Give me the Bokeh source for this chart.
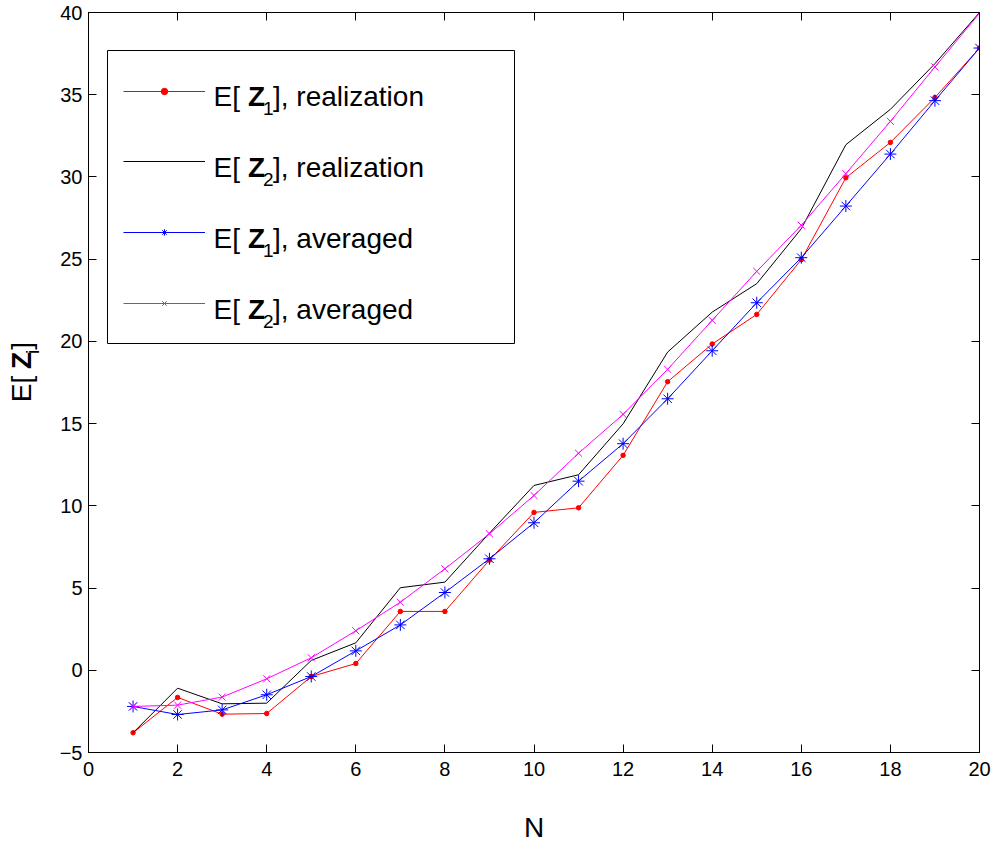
import math
from bokeh.plotting import figure
from bokeh.layouts import row
from bokeh.models import (Range1d, FixedTicker, LinearAxis, Legend, LegendItem,
                          Label, BoxAnnotation)
from bokeh.core.properties import value
from bokeh.embed import file_html
from bokeh.resources import INLINE

# ---------------- data ----------------
N = list(range(1, 21))
z1_realization = [-3.8, -1.65, -2.67, -2.63, -0.38, 0.41, 3.58, 3.58, 6.7, 9.6,
                  9.88, 13.07, 17.55, 19.84, 21.64, 24.97, 29.95, 32.1, 34.83, 37.84]
z2_realization = [-3.8, -1.09, -2.04, -2.0, 0.6, 1.67, 5.02, 5.36, 8.34, 11.24,
                  11.89, 14.99, 19.35, 21.78, 23.51, 26.85, 31.96, 34.11, 36.89, 40.0]
z1_averaged = [-2.2, -2.69, -2.41, -1.49, -0.38, 1.18, 2.76, 4.73, 6.78, 8.97,
               11.5, 13.78, 16.51, 19.43, 22.35, 25.09, 28.23, 31.39, 34.64, 37.84]
z2_averaged = [-2.2, -2.12, -1.63, -0.52, 0.76, 2.4, 4.14, 6.17, 8.3, 10.63,
               13.2, 15.56, 18.3, 21.28, 24.26, 27.06, 30.2, 33.38, 36.69, 39.95]

x_ticks = [0, 2, 4, 6, 8, 10, 12, 14, 16, 18, 20]
y_ticks = [-5, 0, 5, 10, 15, 20, 25, 30, 35, 40]
y_tick_labels = {-5: "\u22125"}

series_subs = ["1", "2", "1", "2"]
series_suffix = ["], realization", "], realization", "], averaged", "], averaged"]

FONT = "Liberation Sans"
H = 845
LAB_W = 48
MAGENTA = "#ff00ff"

# ---------------- y-axis label strip ----------------
ylab = figure(width=LAB_W, height=H, output_backend="svg", toolbar_location=None,
              x_range=Range1d(0, LAB_W), y_range=Range1d(0, H),
              min_border=0, x_axis_type=None, y_axis_type=None)
ylab.xgrid.visible = False
ylab.ygrid.visible = False
ylab.outline_line_color = None
ylab.background_fill_color = "white"
ylab.border_fill_color = "white"
ang = math.pi / 2
DX, DY = -11, -28
ylab.text(x=[32 + DX], y=[H - 417 + DY], text=["E[ "], angle=ang,
          text_font=value(FONT), text_font_size="28px", text_color="black",
          text_baseline="alphabetic", text_align="left")
ylab.text(x=[32 + DX], y=[H - 379 + DY], text=["Z"], angle=ang,
          text_font=value(FONT), text_font_size="28px", text_font_style="bold",
          text_color="black", text_baseline="alphabetic", text_align="left")
ylab.text(x=[43 + DX], y=[H - 362 + DY], text=["i"], angle=ang,
          text_font=value(FONT), text_font_size="19px", text_color="black",
          text_baseline="alphabetic", text_align="left")
ylab.text(x=[32 + DX], y=[H - 357 + DY], text=["]"], angle=ang,
          text_font=value(FONT), text_font_size="28px", text_color="black",
          text_baseline="alphabetic", text_align="left")

# ---------------- main plot ----------------
p = figure(width=995 - LAB_W, height=H, output_backend="svg", toolbar_location=None,
           x_range=Range1d(0, 20), y_range=Range1d(-5, 40),
           min_border_left=88 - LAB_W, min_border_right=16, min_border_top=12,
           min_border_bottom=93, x_axis_type=None, y_axis_type=None)
p.xgrid.visible = False
p.ygrid.visible = False
p.outline_line_color = "black"
p.outline_line_width = 1
p.background_fill_color = "white"
p.border_fill_color = "white"


def style_axis(ax, ticks, show_labels, standoff, overrides=None):
    ax.ticker = FixedTicker(ticks=ticks)
    ax.major_tick_in = 8
    ax.major_tick_out = 0
    ax.minor_tick_in = 0
    ax.minor_tick_out = 0
    ax.axis_line_color = "black"
    ax.major_tick_line_color = "black"
    ax.major_label_text_font = FONT
    ax.major_label_text_color = "black"
    ax.major_label_text_font_size = "20px"
    if show_labels:
        ax.major_label_standoff = standoff
        if overrides:
            ax.major_label_overrides = overrides
    else:
        ax.major_label_standoff = 0
        ax.major_label_overrides = {t: "" for t in ticks}


xb = LinearAxis(axis_label="N")
style_axis(xb, x_ticks, True, 9)
xb.axis_label_text_font = FONT
xb.axis_label_text_font_size = "28px"
xb.axis_label_text_font_style = "normal"
xb.axis_label_text_color = "black"
xb.axis_label_standoff = 33
p.add_layout(xb, "below")
yl = LinearAxis()
style_axis(yl, y_ticks, True, 6, y_tick_labels)
p.add_layout(yl, "left")
xa = LinearAxis()
style_axis(xa, x_ticks, False, 0)
p.add_layout(xa, "above")
yr = LinearAxis()
style_axis(yr, y_ticks, False, 0)
p.add_layout(yr, "right")

# ---------------- series ----------------
r1l = p.line(N, z1_realization, line_color="#ff0000", line_width=1)
r1m = p.scatter(N, z1_realization, marker="circle", size=4.5,
                fill_color="#ff0000", line_color="#ff0000")
r2l = p.line(N, z2_realization, line_color="black", line_width=1)
r3l = p.line(N, z1_averaged, line_color="#0000ff", line_width=1)
r3m = p.scatter(N, z1_averaged, marker="asterisk", size=12,
                line_color="#0000ff", line_width=1)
r4l = p.line(N, z2_averaged, line_color=MAGENTA, line_width=1, line_alpha=1.0)
r4m = p.scatter(N, z2_averaged, marker="x", size=10,
                line_color=MAGENTA, line_width=1, line_alpha=1.0)

# ---------------- legend ----------------
box = BoxAnnotation(left=19, right=426, top=702, bottom=409,
                    left_units="screen", right_units="screen",
                    top_units="screen", bottom_units="screen",
                    fill_color="white", fill_alpha=1.0,
                    line_color="black", line_width=1, line_alpha=1.0)
p.add_layout(box)

legend_renderers = [[r1l, r1m], [r2l], [r3l, r3m], [r4l, r4m]]
row_centers = [661.5, 591.5, 520.5, 449.5]
for rends, c in zip(legend_renderers, row_centers):
    lg = Legend(items=[LegendItem(label=" ", renderers=rends)],
                location=(35, c - 8), padding=0, margin=0,
                border_line_alpha=0, background_fill_alpha=0,
                glyph_width=82, glyph_height=16, label_height=16,
                label_width=10, label_standoff=0, spacing=0,
                label_text_font_size="10px")
    p.add_layout(lg)

baselines = [656, 585.3, 514.3, 443.3]
for b, sub, suf in zip(baselines, series_subs, series_suffix):
    p.add_layout(Label(x=125, y=b, x_units="screen", y_units="screen", text="E[ ",
                       text_font=FONT, text_font_size="28px", text_color="black",
                       text_baseline="alphabetic", text_align="left"))
    p.add_layout(Label(x=159.5, y=b, x_units="screen", y_units="screen", text="Z",
                       text_font=FONT, text_font_size="28px", text_font_style="bold",
                       text_color="black", text_baseline="alphabetic", text_align="left"))
    p.add_layout(Label(x=174.5, y=b - 12.3, x_units="screen", y_units="screen", text=sub,
                       text_font=FONT, text_font_size="19px", text_color="black",
                       text_baseline="alphabetic", text_align="left"))
    p.add_layout(Label(x=184.5, y=b, x_units="screen", y_units="screen", text=suf,
                       text_font=FONT, text_font_size="28px", text_color="black",
                       text_baseline="alphabetic", text_align="left"))

layout = row(ylab, p, spacing=0)
open("out.html", "w").write(file_html(layout, INLINE))
